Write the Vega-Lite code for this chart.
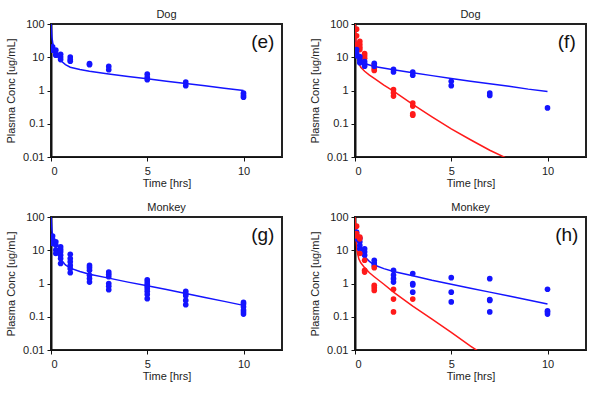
{
  "$schema": "https://vega.github.io/schema/vega-lite/v6.json",
  "padding": {"left": 4, "top": 8, "right": 5, "bottom": 5},
  "background": "white",
  "config": {
    "font": "Liberation Sans",
    "view": {"stroke": "#222222", "strokeWidth": 2},
    "axis": {"grid": false, "labelFontSize": 11, "titleFontSize": 11, "titleFontWeight": "normal", "labelColor": "#222222", "titleColor": "#222222", "domainColor": "#111111", "tickColor": "#111111", "tickSize": 4, "labelPadding": 3},
    "title": {"fontSize": 11, "fontWeight": "normal", "color": "#222222", "offset": -2}
  },
  "datasets": {
    "pts": [
      {"panel":"e","series":"A","t":0.083,"conc":20.6},{"panel":"e","series":"A","t":0.083,"conc":16.3},
      {"panel":"e","series":"A","t":0.25,"conc":16.3},{"panel":"e","series":"A","t":0.25,"conc":12.3},{"panel":"e","series":"A","t":0.25,"conc":11.5},
      {"panel":"e","series":"A","t":0.5,"conc":12.3},{"panel":"e","series":"A","t":0.5,"conc":10.2},{"panel":"e","series":"A","t":0.5,"conc":8.5},
      {"panel":"e","series":"A","t":1,"conc":10.2},{"panel":"e","series":"A","t":1,"conc":8.5},{"panel":"e","series":"A","t":1,"conc":7.6},
      {"panel":"e","series":"A","t":2,"conc":6.4},{"panel":"e","series":"A","t":2,"conc":6.0},
      {"panel":"e","series":"A","t":3,"conc":5.3},{"panel":"e","series":"A","t":3,"conc":4.2},
      {"panel":"e","series":"A","t":5,"conc":3.1},{"panel":"e","series":"A","t":5,"conc":2.5},{"panel":"e","series":"A","t":5,"conc":2.1},
      {"panel":"e","series":"A","t":7,"conc":1.8},{"panel":"e","series":"A","t":7,"conc":1.4},
      {"panel":"e","series":"A","t":10,"conc":0.83},{"panel":"e","series":"A","t":10,"conc":0.71},{"panel":"e","series":"A","t":10,"conc":0.63},

      {"panel":"f","series":"B","t":0.083,"conc":70},{"panel":"f","series":"B","t":0.083,"conc":44},{"panel":"f","series":"B","t":0.083,"conc":24},
      {"panel":"f","series":"B","t":0.25,"conc":30},{"panel":"f","series":"B","t":0.25,"conc":24},{"panel":"f","series":"B","t":0.25,"conc":20},{"panel":"f","series":"B","t":0.25,"conc":17},
      {"panel":"f","series":"B","t":0.5,"conc":13},{"panel":"f","series":"B","t":0.5,"conc":11},{"panel":"f","series":"B","t":0.5,"conc":9.3},
      {"panel":"f","series":"B","t":1,"conc":5.9},{"panel":"f","series":"B","t":1,"conc":4.6},{"panel":"f","series":"B","t":1,"conc":4.0},
      {"panel":"f","series":"B","t":2,"conc":1.07},{"panel":"f","series":"B","t":2,"conc":0.85},{"panel":"f","series":"B","t":2,"conc":0.68},
      {"panel":"f","series":"B","t":3,"conc":0.42},{"panel":"f","series":"B","t":3,"conc":0.34},{"panel":"f","series":"B","t":3,"conc":0.2},{"panel":"f","series":"B","t":3,"conc":0.18},
      {"panel":"f","series":"A","t":0.083,"conc":17},{"panel":"f","series":"A","t":0.083,"conc":13.2},{"panel":"f","series":"A","t":0.083,"conc":11},
      {"panel":"f","series":"A","t":0.25,"conc":10.4},{"panel":"f","series":"A","t":0.25,"conc":8.3},{"panel":"f","series":"A","t":0.25,"conc":6.8},
      {"panel":"f","series":"A","t":0.5,"conc":7.4},{"panel":"f","series":"A","t":0.5,"conc":6.2},{"panel":"f","series":"A","t":0.5,"conc":5.4},
      {"panel":"f","series":"A","t":1,"conc":6.6},{"panel":"f","series":"A","t":1,"conc":5.4},
      {"panel":"f","series":"A","t":2,"conc":4.3},{"panel":"f","series":"A","t":2,"conc":3.6},
      {"panel":"f","series":"A","t":3,"conc":3.6},{"panel":"f","series":"A","t":3,"conc":2.9},
      {"panel":"f","series":"A","t":5,"conc":1.9},{"panel":"f","series":"A","t":5,"conc":1.4},
      {"panel":"f","series":"A","t":7,"conc":0.84},{"panel":"f","series":"A","t":7,"conc":0.71},
      {"panel":"f","series":"A","t":10,"conc":0.3},

      {"panel":"g","series":"A","t":0.083,"conc":26.6},{"panel":"g","series":"A","t":0.083,"conc":21.2},{"panel":"g","series":"A","t":0.083,"conc":16},
      {"panel":"g","series":"A","t":0.25,"conc":18},{"panel":"g","series":"A","t":0.25,"conc":14.3},{"panel":"g","series":"A","t":0.25,"conc":10.1},{"panel":"g","series":"A","t":0.25,"conc":8},
      {"panel":"g","series":"A","t":0.5,"conc":12.7},{"panel":"g","series":"A","t":0.5,"conc":10.6},{"panel":"g","series":"A","t":0.5,"conc":9},{"panel":"g","series":"A","t":0.5,"conc":7.1},{"panel":"g","series":"A","t":0.5,"conc":5.6},{"panel":"g","series":"A","t":0.5,"conc":4},
      {"panel":"g","series":"A","t":1,"conc":7.6},{"panel":"g","series":"A","t":1,"conc":5.6},{"panel":"g","series":"A","t":1,"conc":4.5},{"panel":"g","series":"A","t":1,"conc":3.5},{"panel":"g","series":"A","t":1,"conc":2.8},{"panel":"g","series":"A","t":1,"conc":2.1},
      {"panel":"g","series":"A","t":2,"conc":3.5},{"panel":"g","series":"A","t":2,"conc":3.0},{"panel":"g","series":"A","t":2,"conc":2.5},{"panel":"g","series":"A","t":2,"conc":1.77},{"panel":"g","series":"A","t":2,"conc":1.41},{"panel":"g","series":"A","t":2,"conc":1.1},
      {"panel":"g","series":"A","t":3,"conc":2.2},{"panel":"g","series":"A","t":3,"conc":1.9},{"panel":"g","series":"A","t":3,"conc":1.6},{"panel":"g","series":"A","t":3,"conc":1.0},{"panel":"g","series":"A","t":3,"conc":0.82},{"panel":"g","series":"A","t":3,"conc":0.65},
      {"panel":"g","series":"A","t":5,"conc":1.3},{"panel":"g","series":"A","t":5,"conc":1.1},{"panel":"g","series":"A","t":5,"conc":0.95},{"panel":"g","series":"A","t":5,"conc":0.82},{"panel":"g","series":"A","t":5,"conc":0.7},{"panel":"g","series":"A","t":5,"conc":0.58},{"panel":"g","series":"A","t":5,"conc":0.47},{"panel":"g","series":"A","t":5,"conc":0.35},
      {"panel":"g","series":"A","t":7,"conc":0.58},{"panel":"g","series":"A","t":7,"conc":0.49},{"panel":"g","series":"A","t":7,"conc":0.43},{"panel":"g","series":"A","t":7,"conc":0.31},{"panel":"g","series":"A","t":7,"conc":0.23},
      {"panel":"g","series":"A","t":10,"conc":0.27},{"panel":"g","series":"A","t":10,"conc":0.24},{"panel":"g","series":"A","t":10,"conc":0.2},{"panel":"g","series":"A","t":10,"conc":0.16},{"panel":"g","series":"A","t":10,"conc":0.14},{"panel":"g","series":"A","t":10,"conc":0.12},

      {"panel":"h","series":"A","t":0.083,"conc":35},{"panel":"h","series":"A","t":0.083,"conc":28},{"panel":"h","series":"A","t":0.083,"conc":22},
      {"panel":"h","series":"A","t":0.25,"conc":23},{"panel":"h","series":"A","t":0.25,"conc":18},{"panel":"h","series":"A","t":0.25,"conc":14},{"panel":"h","series":"A","t":0.25,"conc":11},
      {"panel":"h","series":"A","t":0.5,"conc":11},{"panel":"h","series":"A","t":0.5,"conc":9},{"panel":"h","series":"A","t":0.5,"conc":7.1},
      {"panel":"h","series":"A","t":1,"conc":5.0},{"panel":"h","series":"A","t":1,"conc":4.1},{"panel":"h","series":"A","t":1,"conc":3.5},
      {"panel":"h","series":"A","t":2,"conc":2.5},{"panel":"h","series":"A","t":2,"conc":1.8},{"panel":"h","series":"A","t":2,"conc":1.4},{"panel":"h","series":"A","t":2,"conc":1.1},
      {"panel":"h","series":"A","t":3,"conc":2.0},{"panel":"h","series":"A","t":3,"conc":1.0},{"panel":"h","series":"A","t":3,"conc":0.9},{"panel":"h","series":"A","t":3,"conc":0.55},
      {"panel":"h","series":"A","t":5,"conc":1.5},{"panel":"h","series":"A","t":5,"conc":0.55},{"panel":"h","series":"A","t":5,"conc":0.28},
      {"panel":"h","series":"A","t":7,"conc":1.4},{"panel":"h","series":"A","t":7,"conc":0.33},{"panel":"h","series":"A","t":7,"conc":0.31},{"panel":"h","series":"A","t":7,"conc":0.14},
      {"panel":"h","series":"A","t":10,"conc":0.67},{"panel":"h","series":"A","t":10,"conc":0.15},{"panel":"h","series":"A","t":10,"conc":0.14},{"panel":"h","series":"A","t":10,"conc":0.12},
      {"panel":"h","series":"B","t":0.083,"conc":53},{"panel":"h","series":"B","t":0.083,"conc":32},{"panel":"h","series":"B","t":0.083,"conc":27},
      {"panel":"h","series":"B","t":0.25,"conc":25},{"panel":"h","series":"B","t":0.25,"conc":22},{"panel":"h","series":"B","t":0.25,"conc":8},
      {"panel":"h","series":"B","t":0.5,"conc":5.0},{"panel":"h","series":"B","t":0.5,"conc":2.5},{"panel":"h","series":"B","t":0.5,"conc":2.2},
      {"panel":"h","series":"B","t":1,"conc":3.0},{"panel":"h","series":"B","t":1,"conc":0.88},{"panel":"h","series":"B","t":1,"conc":0.75},{"panel":"h","series":"B","t":1,"conc":0.62},
      {"panel":"h","series":"B","t":2,"conc":0.67},{"panel":"h","series":"B","t":2,"conc":0.34},{"panel":"h","series":"B","t":2,"conc":0.14},
      {"panel":"h","series":"B","t":3,"conc":0.34}
    ],
    "lines": [
      {"panel":"e","series":"A","t":0,"conc":110},{"panel":"e","series":"A","t":0.05,"conc":40},{"panel":"e","series":"A","t":0.1,"conc":25},{"panel":"e","series":"A","t":0.2,"conc":15},{"panel":"e","series":"A","t":0.3,"conc":11},{"panel":"e","series":"A","t":0.5,"conc":8},{"panel":"e","series":"A","t":0.75,"conc":6},{"panel":"e","series":"A","t":1,"conc":5},{"panel":"e","series":"A","t":1.5,"conc":4.3},{"panel":"e","series":"A","t":2,"conc":3.8},{"panel":"e","series":"A","t":3,"conc":3.15},{"panel":"e","series":"A","t":4,"conc":2.65},{"panel":"e","series":"A","t":5,"conc":2.25},{"panel":"e","series":"A","t":6,"conc":1.9},{"panel":"e","series":"A","t":7,"conc":1.62},{"panel":"e","series":"A","t":8,"conc":1.38},{"panel":"e","series":"A","t":9,"conc":1.17},{"panel":"e","series":"A","t":10,"conc":1.0},

      {"panel":"f","series":"A","t":0,"conc":40},{"panel":"f","series":"A","t":0.05,"conc":18},{"panel":"f","series":"A","t":0.1,"conc":12},{"panel":"f","series":"A","t":0.25,"conc":8},{"panel":"f","series":"A","t":0.5,"conc":6.5},{"panel":"f","series":"A","t":1,"conc":5.3},{"panel":"f","series":"A","t":2,"conc":4.2},{"panel":"f","series":"A","t":3,"conc":3.4},{"panel":"f","series":"A","t":4,"conc":2.8},{"panel":"f","series":"A","t":5,"conc":2.3},{"panel":"f","series":"A","t":6,"conc":1.9},{"panel":"f","series":"A","t":7,"conc":1.6},{"panel":"f","series":"A","t":8,"conc":1.35},{"panel":"f","series":"A","t":9,"conc":1.1},{"panel":"f","series":"A","t":10,"conc":0.93},
      {"panel":"f","series":"B","t":0,"conc":120},{"panel":"f","series":"B","t":0.05,"conc":30},{"panel":"f","series":"B","t":0.1,"conc":12},{"panel":"f","series":"B","t":0.2,"conc":6.5},{"panel":"f","series":"B","t":0.3,"conc":5},{"panel":"f","series":"B","t":0.5,"conc":3.8},{"panel":"f","series":"B","t":0.75,"conc":2.9},{"panel":"f","series":"B","t":1,"conc":2.3},{"panel":"f","series":"B","t":1.5,"conc":1.45},{"panel":"f","series":"B","t":2,"conc":0.95},{"panel":"f","series":"B","t":3,"conc":0.38},{"panel":"f","series":"B","t":4,"conc":0.16},{"panel":"f","series":"B","t":5,"conc":0.07},{"panel":"f","series":"B","t":6,"conc":0.033},{"panel":"f","series":"B","t":7,"conc":0.016},{"panel":"f","series":"B","t":8,"conc":0.0085},

      {"panel":"g","series":"A","t":0,"conc":110},{"panel":"g","series":"A","t":0.05,"conc":40},{"panel":"g","series":"A","t":0.1,"conc":24},{"panel":"g","series":"A","t":0.2,"conc":14},{"panel":"g","series":"A","t":0.3,"conc":9.5},{"panel":"g","series":"A","t":0.5,"conc":5.5},{"panel":"g","series":"A","t":0.75,"conc":3.6},{"panel":"g","series":"A","t":1,"conc":2.9},{"panel":"g","series":"A","t":1.5,"conc":2.3},{"panel":"g","series":"A","t":2,"conc":1.9},{"panel":"g","series":"A","t":3,"conc":1.45},{"panel":"g","series":"A","t":4,"conc":1.1},{"panel":"g","series":"A","t":5,"conc":0.85},{"panel":"g","series":"A","t":6,"conc":0.66},{"panel":"g","series":"A","t":7,"conc":0.5},{"panel":"g","series":"A","t":8,"conc":0.38},{"panel":"g","series":"A","t":9,"conc":0.29},{"panel":"g","series":"A","t":10,"conc":0.22},

      {"panel":"h","series":"A","t":0,"conc":45},{"panel":"h","series":"A","t":0.05,"conc":30},{"panel":"h","series":"A","t":0.1,"conc":22},{"panel":"h","series":"A","t":0.25,"conc":13},{"panel":"h","series":"A","t":0.5,"conc":6.5},{"panel":"h","series":"A","t":0.75,"conc":4.6},{"panel":"h","series":"A","t":1,"conc":3.6},{"panel":"h","series":"A","t":1.5,"conc":2.8},{"panel":"h","series":"A","t":2,"conc":2.3},{"panel":"h","series":"A","t":3,"conc":1.7},{"panel":"h","series":"A","t":4,"conc":1.25},{"panel":"h","series":"A","t":5,"conc":0.95},{"panel":"h","series":"A","t":6,"conc":0.72},{"panel":"h","series":"A","t":7,"conc":0.55},{"panel":"h","series":"A","t":8,"conc":0.42},{"panel":"h","series":"A","t":9,"conc":0.32},{"panel":"h","series":"A","t":10,"conc":0.24},
      {"panel":"h","series":"B","t":0,"conc":120},{"panel":"h","series":"B","t":0.05,"conc":25},{"panel":"h","series":"B","t":0.1,"conc":10},{"panel":"h","series":"B","t":0.2,"conc":5.5},{"panel":"h","series":"B","t":0.3,"conc":4.2},{"panel":"h","series":"B","t":0.5,"conc":3.0},{"panel":"h","series":"B","t":0.75,"conc":2.1},{"panel":"h","series":"B","t":1,"conc":1.6},{"panel":"h","series":"B","t":1.5,"conc":0.95},{"panel":"h","series":"B","t":2,"conc":0.55},{"panel":"h","series":"B","t":3,"conc":0.21},{"panel":"h","series":"B","t":4,"conc":0.085},{"panel":"h","series":"B","t":5,"conc":0.034},{"panel":"h","series":"B","t":6,"conc":0.013},{"panel":"h","series":"B","t":6.5,"conc":0.0085}
    ],
    "labels": [
      {"panel":"e","label":"(e)","t":11,"conc":28},
      {"panel":"f","label":"(f)","t":11,"conc":28},
      {"panel":"g","label":"(g)","t":11,"conc":28},
      {"panel":"h","label":"(h)","t":11,"conc":28}
    ]
  },
  "vconcat": [
    {
      "hconcat": [
        {
          "width": 231, "height": 133, "title": "Dog",
          "layer": [
            {"data": {"name": "lines"}, "transform": [{"filter": "datum.panel === 'e'"}], "mark": {"type": "line", "clip": true, "strokeWidth": 1.5},
             "encoding": {"x": {"field": "t", "type": "quantitative", "scale": {"domain": [0, 12], "nice": false}, "axis": {"values": [0, 5, 10], "title": "Time [hrs]", "titlePadding": 1, "labelPadding": 4}},
                          "y": {"field": "conc", "type": "quantitative", "scale": {"type": "log", "domain": [0.01, 100], "nice": false}, "axis": {"values": [0.01, 0.1, 1, 10, 100], "format": "~g", "title": "Plasma Conc [ug/mL]", "domainWidth": 2, "titlePadding": 6}},
                          "color": {"field": "series", "type": "nominal", "scale": {"domain": ["A", "B"], "range": ["#1414ff", "#ff1a1a"]}, "legend": null}}},
            {"data": {"name": "pts"}, "transform": [{"filter": "datum.panel === 'e'"}], "mark": {"type": "circle", "size": 32, "opacity": 1, "clip": true},
             "encoding": {"x": {"field": "t", "type": "quantitative"}, "y": {"field": "conc", "type": "quantitative"}, "color": {"field": "series", "type": "nominal", "legend": null}}},
            {"data": {"name": "labels"}, "transform": [{"filter": "datum.panel === 'e'"}], "mark": {"type": "text", "fontSize": 19, "align": "center", "baseline": "middle", "color": "#111111"},
             "encoding": {"x": {"field": "t", "type": "quantitative"}, "y": {"field": "conc", "type": "quantitative"}, "text": {"field": "label"}}}
          ]
        },
        {
          "width": 231, "height": 133, "title": "Dog",
          "layer": [
            {"data": {"name": "lines"}, "transform": [{"filter": "datum.panel === 'f'"}], "mark": {"type": "line", "clip": true, "strokeWidth": 1.5},
             "encoding": {"x": {"field": "t", "type": "quantitative", "scale": {"domain": [0, 12], "nice": false}, "axis": {"values": [0, 5, 10], "title": "Time [hrs]", "titlePadding": 1, "labelPadding": 4}},
                          "y": {"field": "conc", "type": "quantitative", "scale": {"type": "log", "domain": [0.01, 100], "nice": false}, "axis": {"values": [0.01, 0.1, 1, 10, 100], "format": "~g", "title": "Plasma Conc [ug/mL]", "domainWidth": 2, "titlePadding": 6}},
                          "color": {"field": "series", "type": "nominal", "scale": {"domain": ["A", "B"], "range": ["#1414ff", "#ff1a1a"]}, "legend": null}}},
            {"data": {"name": "pts"}, "transform": [{"filter": "datum.panel === 'f'"}], "mark": {"type": "circle", "size": 32, "opacity": 1, "clip": true},
             "encoding": {"x": {"field": "t", "type": "quantitative"}, "y": {"field": "conc", "type": "quantitative"}, "color": {"field": "series", "type": "nominal", "legend": null}}},
            {"data": {"name": "labels"}, "transform": [{"filter": "datum.panel === 'f'"}], "mark": {"type": "text", "fontSize": 19, "align": "center", "baseline": "middle", "color": "#111111"},
             "encoding": {"x": {"field": "t", "type": "quantitative"}, "y": {"field": "conc", "type": "quantitative"}, "text": {"field": "label"}}}
          ]
        }
      ],
      "spacing": 25
    },
    {
      "hconcat": [
        {
          "width": 231, "height": 133, "title": "Monkey",
          "layer": [
            {"data": {"name": "lines"}, "transform": [{"filter": "datum.panel === 'g'"}], "mark": {"type": "line", "clip": true, "strokeWidth": 1.5},
             "encoding": {"x": {"field": "t", "type": "quantitative", "scale": {"domain": [0, 12], "nice": false}, "axis": {"values": [0, 5, 10], "title": "Time [hrs]", "titlePadding": 1, "labelPadding": 4}},
                          "y": {"field": "conc", "type": "quantitative", "scale": {"type": "log", "domain": [0.01, 100], "nice": false}, "axis": {"values": [0.01, 0.1, 1, 10, 100], "format": "~g", "title": "Plasma Conc [ug/mL]", "domainWidth": 2, "titlePadding": 6}},
                          "color": {"field": "series", "type": "nominal", "scale": {"domain": ["A", "B"], "range": ["#1414ff", "#ff1a1a"]}, "legend": null}}},
            {"data": {"name": "pts"}, "transform": [{"filter": "datum.panel === 'g'"}], "mark": {"type": "circle", "size": 32, "opacity": 1, "clip": true},
             "encoding": {"x": {"field": "t", "type": "quantitative"}, "y": {"field": "conc", "type": "quantitative"}, "color": {"field": "series", "type": "nominal", "legend": null}}},
            {"data": {"name": "labels"}, "transform": [{"filter": "datum.panel === 'g'"}], "mark": {"type": "text", "fontSize": 19, "align": "center", "baseline": "middle", "color": "#111111"},
             "encoding": {"x": {"field": "t", "type": "quantitative"}, "y": {"field": "conc", "type": "quantitative"}, "text": {"field": "label"}}}
          ]
        },
        {
          "width": 231, "height": 133, "title": "Monkey",
          "layer": [
            {"data": {"name": "lines"}, "transform": [{"filter": "datum.panel === 'h'"}], "mark": {"type": "line", "clip": true, "strokeWidth": 1.5},
             "encoding": {"x": {"field": "t", "type": "quantitative", "scale": {"domain": [0, 12], "nice": false}, "axis": {"values": [0, 5, 10], "title": "Time [hrs]", "titlePadding": 1, "labelPadding": 4}},
                          "y": {"field": "conc", "type": "quantitative", "scale": {"type": "log", "domain": [0.01, 100], "nice": false}, "axis": {"values": [0.01, 0.1, 1, 10, 100], "format": "~g", "title": "Plasma Conc [ug/mL]", "domainWidth": 2, "titlePadding": 6}},
                          "color": {"field": "series", "type": "nominal", "scale": {"domain": ["A", "B"], "range": ["#1414ff", "#ff1a1a"]}, "legend": null}}},
            {"data": {"name": "pts"}, "transform": [{"filter": "datum.panel === 'h'"}], "mark": {"type": "circle", "size": 32, "opacity": 1, "clip": true},
             "encoding": {"x": {"field": "t", "type": "quantitative"}, "y": {"field": "conc", "type": "quantitative"}, "color": {"field": "series", "type": "nominal", "legend": null}}},
            {"data": {"name": "labels"}, "transform": [{"filter": "datum.panel === 'h'"}], "mark": {"type": "text", "fontSize": 19, "align": "center", "baseline": "middle", "color": "#111111"},
             "encoding": {"x": {"field": "t", "type": "quantitative"}, "y": {"field": "conc", "type": "quantitative"}, "text": {"field": "label"}}}
          ]
        }
      ],
      "spacing": 25
    }
  ],
  "spacing": 12
}
